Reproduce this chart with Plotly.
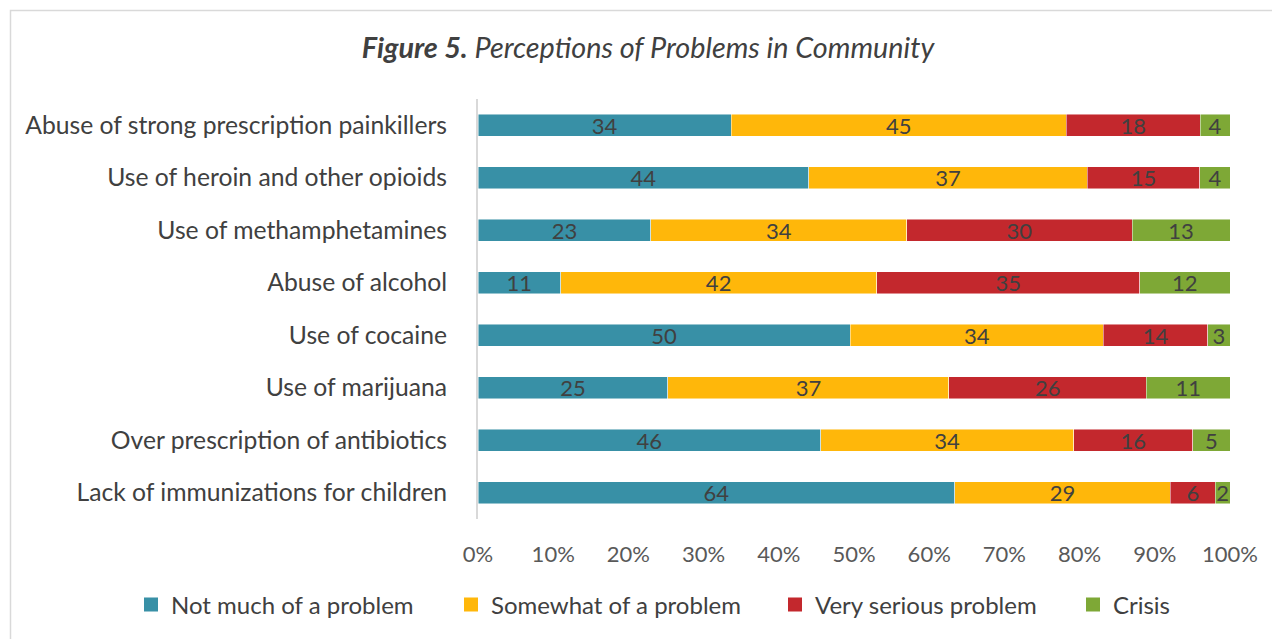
import plotly.graph_objects as go

categories = [
    "Abuse of strong prescription painkillers",
    "Use of heroin and other opioids",
    "Use of methamphetamines",
    "Abuse of alcohol",
    "Use of cocaine",
    "Use of marijuana",
    "Over prescription of antibiotics",
    "Lack of immunizations for children",
]
not_much = [34, 44, 23, 11, 50, 25, 46, 64]
somewhat = [45, 37, 34, 42, 34, 37, 34, 29]
very_serious = [18, 15, 30, 35, 14, 26, 16, 6]
crisis = [4, 4, 13, 12, 3, 11, 5, 2]

series = [
    ("Not much of a problem", not_much, "#3890A6"),
    ("Somewhat of a problem", somewhat, "#FFB70A"),
    ("Very serious problem", very_serious, "#C3282D"),
    ("Crisis", crisis, "#7EA836"),
]
legend_square_left = [144, 464, 788, 1086]  # screen px of each legend swatch

FONT = "Lato, 'Open Sans', sans-serif"
OFF = 8  # page body margin
FW, FH = 1280 - OFF, 639 - OFF

# target screen coordinates of the plot area
W0, W1 = 478, 1230
T0, B0 = 99, 519
def px(x):
    return (x - W0) / (W1 - W0)
def py(y):
    return (B0 - y) / (B0 - T0)

fig = go.Figure()
legend_layouts = {}
for i, (name, vals, color) in enumerate(series):
    lname = "legend" if i == 0 else f"legend{i + 1}"
    fig.add_trace(go.Bar(
        y=categories, x=vals, name=name, orientation="h",
        showlegend=False, legendgroup=name,
        marker=dict(color=color, line=dict(color="rgba(255,255,255,0.6)", width=0.8)),
        text=[str(v) for v in vals], textposition="inside",
        insidetextanchor="middle", constraintext="none", textangle=0,
        textfont=dict(size=22, color="#404040", family=FONT),
        hoverinfo="skip",
    ))
    # legend-only entry with a larger square swatch
    fig.add_trace(go.Scatter(
        x=[None], y=[None], mode="markers", name=name, legend=lname,
        legendgroup=name, showlegend=True,
        marker=dict(symbol="square", size=14, color=color, line=dict(width=0)),
        hoverinfo="skip",
    ))
    legend_layouts[lname] = dict(
        orientation="h", xref="paper", yref="paper",
        x=px(legend_square_left[i] - 13), xanchor="left",
        y=py(605), yanchor="middle",
        font=dict(size=24, color="#404040", family=FONT),
        itemwidth=30, bgcolor="rgba(0,0,0,0)", visible=True,
    )

fig.update_layout(
    width=FW, height=FH, showlegend=True,
    barmode="stack", barnorm="percent", bargap=0.58,
    margin=dict(l=W0 - OFF, r=FW - (W1 - OFF), t=T0 - OFF, b=FH - (B0 - OFF),
                autoexpand=False),
    paper_bgcolor="white", plot_bgcolor="white",
    font=dict(family=FONT, color="#404040"),
    title=dict(
        text="<b><i>Figure 5.</i></b><i> Perceptions of Problems in Community</i>",
        x=(648 - OFF) / FW, xref="container", xanchor="center",
        y=1 - (48 - OFF) / FH, yref="container", yanchor="middle",
        font=dict(size=28.8, color="#404040", family=FONT),
    ),
    xaxis=dict(
        range=[0, 100], dtick=10, ticksuffix="%", showgrid=False, zeroline=False,
        showline=False, tickfont=dict(size=22, color="#595959", family=FONT),
        ticks="", ticklabelstandoff=20, fixedrange=True,
    ),
    yaxis=dict(
        categoryorder="array", categoryarray=categories, autorange="reversed",
        showline=True, linecolor="#D9D9D9", linewidth=2, ticks="",
        tickfont=dict(size=24.7, color="#404040", family=FONT),
        ticklabelstandoff=24,
    ),
    shapes=[dict(
        type="rect", xref="paper", yref="paper",
        x0=px(10.5), x1=px(1300), y0=py(660), y1=py(10.5),
        line=dict(color="#D9D9D9", width=1.5), fillcolor="rgba(0,0,0,0)", layer="below",
    )],
    **legend_layouts,
)

fig.write_html("out.html")
